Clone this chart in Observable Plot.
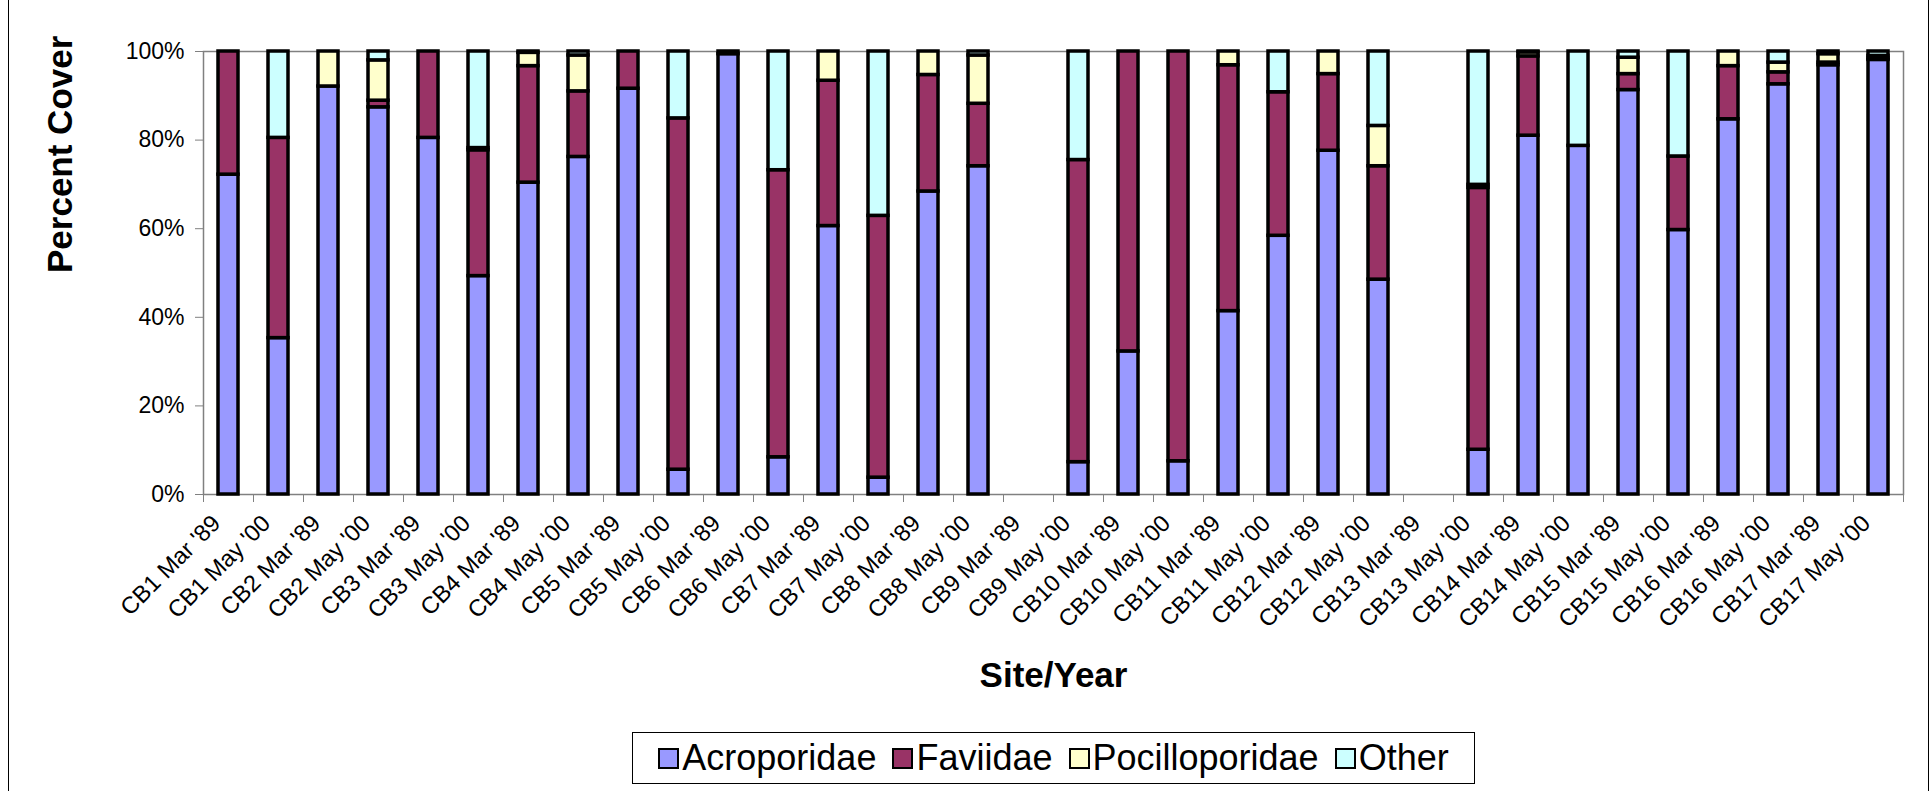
<!DOCTYPE html>
<html><head><meta charset="utf-8">
<script src="https://cdn.jsdelivr.net/npm/d3@7"></script>
<script src="https://cdn.jsdelivr.net/npm/@observablehq/plot@0.6"></script>
<style>
html,body{margin:0;padding:0;background:#fff;}
#wrap{position:relative;width:1932px;height:791px;overflow:hidden;font-family:"Liberation Sans",Arial,sans-serif;}
#border{position:absolute;left:8px;top:0;width:1921px;height:791px;border-left:1px solid #000;border-right:1px solid #000;box-sizing:border-box;pointer-events:none;}
#chart{position:absolute;left:0;top:0;}
#legend{position:absolute;left:632px;top:732px;width:843px;height:52px;box-sizing:border-box;border:1px solid #000;display:flex;align-items:center;justify-content:center;background:#fff;}
.item{display:flex;align-items:center;margin:0 8px;}
.sw{width:21px;height:21px;box-sizing:border-box;border:2px solid #000;margin-right:3px;}
.lab{font-size:36px;line-height:1;color:#000;}
</style></head><body>
<div id="wrap"><div id="chart"></div><div id="legend"></div><div id="border"></div></div>
<script>
const categories = [
  "CB1 Mar '89","CB1 May '00","CB2 Mar '89","CB2 May '00","CB3 Mar '89","CB3 May '00",
  "CB4 Mar '89","CB4 May '00","CB5 Mar '89","CB5 May '00","CB6 Mar '89","CB6 May '00",
  "CB7 Mar '89","CB7 May '00","CB8 Mar '89","CB8 May '00","CB9 Mar '89","CB9 May '00",
  "CB10 Mar '89","CB10 May '00","CB11 Mar '89","CB11 May '00","CB12 Mar '89","CB12 May '00",
  "CB13 Mar '89","CB13 May '00","CB14 Mar '89","CB14 May '00","CB15 Mar '89","CB15 May '00",
  "CB16 Mar '89","CB16 May '00","CB17 Mar '89","CB17 May '00"
];
const acroporidae = [72.2,35.3,92.1,87.4,80.5,49.3,70.4,76.2,91.6,5.6,99.4,8.4,60.6,3.8,68.4,74.1,0,7.3,32.3,7.5,41.4,58.4,77.6,48.5,0,10.1,81.0,78.7,91.3,59.7,84.7,92.6,96.9,98.1];
const faviidae    = [27.8,45.2,0,1.5,19.5,28.4,26.3,14.8,8.4,79.3,0.6,64.8,32.8,59.1,26.3,14.1,0,68.2,67.7,92.5,55.5,32.4,17.3,25.6,0,59.1,17.9,0,3.6,16.6,12.0,2.7,0.6,0.3];
const pocilloporidae = [0,0,7.9,9.1,0,0.5,3.0,8.1,0,0,0,0,6.6,0,5.3,10.9,0,0,0,0,3.1,0,5.1,9.1,0,0.7,0.9,0,3.7,0,3.3,2.2,1.9,0.6];
const other       = [0,19.5,0,2.0,0,21.8,0.3,0.9,0,15.1,0,26.8,0,37.1,0,0.9,0,24.5,0,0,0,9.2,0,16.8,0,30.1,0.2,21.3,1.4,23.7,0,2.5,0.6,1.0];
const seriesNames = ["Acroporidae","Faviidae","Pocilloporidae","Other"];
const seriesColors = ["#9999FF","#993366","#FFFFCC","#CCFFFF"];
const yTicks = [0,20,40,60,80,100];
const yLabel = "Percent Cover";
const xLabel = "Site/Year";

const seriesValues = [acroporidae, faviidae, pocilloporidae, other];
const data = [];
seriesNames.forEach((s, si) => {
  seriesValues[si].forEach((v, i) => {
    if (v > 0) data.push({cat: categories[i], series: s, value: v});
  });
});

const chart = Plot.plot({
  width: 1932, height: 710,
  marginLeft: 203, marginRight: 29, marginTop: 51, marginBottom: 216,
  style: {fontFamily: "Liberation Sans, Arial, sans-serif", fontSize: "23px", color: "#000", background: "transparent"},
  x: {type: "band", domain: categories, paddingInner: 0.6, paddingOuter: 0.3, align: 0.5},
  y: {domain: [0, 100]},
  color: {domain: seriesNames, range: seriesColors},
  marks: [
    Plot.frame({stroke: "#808080", strokeWidth: 1.5}),
    Plot.barY(data, {x: "cat", y: "value", fill: "series", stroke: "#000", strokeWidth: 3.5, order: seriesNames}),
    Plot.axisY({ticks: yTicks, tickSize: 8, tickPadding: 11, tickFormat: d => d + "%", stroke: "#808080", fill: "#000", fontSize: 23, label: null}),
    Plot.axisX({tickSize: 8, dx: -25, fill: "none", stroke: "#808080", label: null}),
    Plot.axisX({ticks: [categories[categories.length - 1]], tickSize: 8, dx: 25, fill: "none", stroke: "#808080", label: null}),
    Plot.axisX({tickSize: 0, tickPadding: 25, tickRotate: -45, dx: -12, fontSize: 23.5, fill: "#000", label: null}),
    Plot.text([yLabel], {frameAnchor: "left", dx: -143, rotate: -90, text: d => d, fontSize: 35, fontWeight: "bold", fill: "#000"}),
    Plot.text([xLabel], {frameAnchor: "bottom", dy: 192, text: d => d, fontSize: 35, fontWeight: "bold", fill: "#000"})
  ]
});
document.getElementById("chart").appendChild(chart);

const legend = document.getElementById("legend");
seriesNames.forEach((s, i) => {
  const item = document.createElement("div");
  item.className = "item";
  const sw = document.createElement("div");
  sw.className = "sw";
  sw.style.background = seriesColors[i];
  const lab = document.createElement("span");
  lab.className = "lab";
  lab.textContent = s;
  item.appendChild(sw); item.appendChild(lab);
  legend.appendChild(item);
});
</script>
</body></html>
